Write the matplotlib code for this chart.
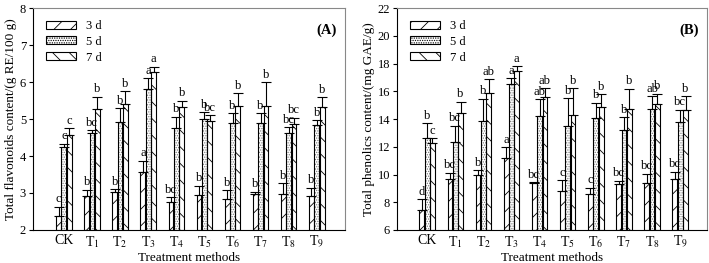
import matplotlib
matplotlib.use("Agg")
import matplotlib.pyplot as plt
import numpy as np
from matplotlib.patches import Patch

plt.rcParams['font.family'] = ['Liberation Serif', 'DejaVu Serif']
plt.rcParams['mathtext.fontset'] = 'stix'
plt.rcParams['hatch.linewidth'] = 0.6

categories = ['CK', 'T$_1$', 'T$_2$', 'T$_3$', 'T$_4$', 'T$_5$', 'T$_6$', 'T$_7$', 'T$_8$', 'T$_9$']
series = ['3 d', '5 d', '7 d']

# Panel A: total flavonoids (g RE/100 g)
flav_3d = [2.38, 2.92, 3.04, 3.56, 2.75, 2.95, 2.84, 2.97, 2.96, 2.93]
flav_5d = [4.25, 4.61, 4.93, 5.81, 4.75, 5.00, 4.88, 4.88, 4.61, 4.84]
flav_7d = [4.57, 5.26, 5.41, 6.26, 5.33, 4.95, 5.35, 5.35, 4.86, 5.33]
flav_3d_err = [0.25, 0.17, 0.06, 0.31, 0.13, 0.25, 0.24, 0.07, 0.30, 0.21]
flav_5d_err = [0.08, 0.09, 0.36, 0.29, 0.31, 0.19, 0.28, 0.28, 0.17, 0.13]
flav_7d_err = [0.18, 0.34, 0.35, 0.15, 0.16, 0.15, 0.34, 0.65, 0.18, 0.26]
flav_3d_let = ['c', 'b', 'b', 'a', 'bc', 'b', 'b', 'b', 'b', 'b']
flav_5d_let = ['c', 'bc', 'b', 'a', 'b', 'b', 'b', 'b', 'bc', 'b']
flav_7d_let = ['c', 'b', 'b', 'a', 'b', 'bc', 'b', 'b', 'bc', 'b']

# Panel B: total phenolics (mg GAE/g)
phen_3d = [7.43, 9.70, 9.95, 11.18, 9.40, 8.81, 8.57, 9.30, 9.37, 9.66]
phen_5d = [12.60, 12.36, 13.83, 16.54, 14.25, 13.47, 14.08, 13.23, 14.73, 13.81]
phen_7d = [12.24, 14.41, 15.86, 17.46, 15.57, 14.32, 14.90, 14.73, 15.09, 14.66]
phen_3d_err = [0.78, 0.42, 0.36, 0.77, 0.05, 0.78, 0.48, 0.24, 0.70, 0.55]
phen_5d_err = [1.12, 1.16, 1.63, 0.41, 1.16, 2.03, 1.09, 0.89, 0.91, 0.85]
phen_7d_err = [0.36, 0.85, 1.00, 0.34, 0.66, 1.91, 0.87, 1.45, 0.73, 0.98]
phen_3d_let = ['d', 'bc', 'b', 'a', 'bc', 'c', 'c', 'bc', 'bc', 'bc']
phen_5d_let = ['b', 'bc', 'b', 'a', 'ab', 'b', 'b', 'b', 'ab', 'bc']
phen_7d_let = ['c', 'b', 'ab', 'a', 'ab', 'b', 'b', 'b', 'b', 'b']

hatches = ['//', '.......', '\\\\']
hatch_colors = ['black', '#777777', 'black']

fig = plt.figure(figsize=(7.09, 2.63), dpi=100)
axA = fig.add_axes([0.0465, 0.1255, 0.440, 0.844])
axB = fig.add_axes([0.560, 0.1255, 0.437, 0.844])


def draw(ax, vals, errs, lets, ylim, yticks, ylabel, tag, xlim):
    x = np.arange(len(categories))
    width = 0.17
    offs = [-0.19, 0.0, 0.19]
    for i in range(3):
        xs = x + offs[i]
        ax.bar(xs, np.array(vals[i]) - ylim[0], width, bottom=ylim[0], color='white',
               edgecolor=hatch_colors[i], hatch=hatches[i], linewidth=0, zorder=2)
        ax.bar(xs, np.array(vals[i]) - ylim[0], width, bottom=ylim[0], fill=False,
               edgecolor='black', linewidth=0.8, zorder=3)
        ax.errorbar(xs, vals[i], yerr=[np.zeros(len(xs)), errs[i]], fmt='none',
                    ecolor='black', elinewidth=0.8, capsize=3.5, capthick=0.8, zorder=4)
        for xi, v, e, l in zip(xs, vals[i], errs[i], lets[i]):
            ax.annotate(l, (xi, v + e), xytext=(0, 1), textcoords='offset points',
                        ha='center', va='bottom', fontsize=9)
    ax.set_xlim(*xlim)
    ax.set_ylim(*ylim)
    ax.set_yticks(yticks)
    ax.set_xticks(x)
    ax.set_xticklabels(categories, fontsize=10)
    ax.tick_params(axis='x', length=0, pad=3)
    ax.tick_params(axis='y', length=3, width=0.8, labelsize=9, pad=2)
    ax.set_xlabel('Treatment methods', fontsize=9.5, labelpad=1)
    ax.set_ylabel(ylabel, fontsize=9.5, labelpad=2)
    for s in ax.spines.values():
        s.set_linewidth(0.8)
    ax.spines['right'].set_color('#888888')
    ax.spines['top'].set_color('#888888')
    ax.text(0.975, 0.93, tag, transform=ax.transAxes, ha='right', va='top',
            fontsize=10.5, fontweight='bold')
    handles = [Patch(facecolor='white', edgecolor='black', hatch=hatches[i], linewidth=0.8)
               for i in range(3)]
    ax.legend(handles, series, loc='upper left', frameon=False, fontsize=9,
              handlelength=2.4, handleheight=0.6, labelspacing=0.3,
              handletextpad=0.8, borderaxespad=0.3, bbox_to_anchor=(0.015, 0.985))


draw(axA, [flav_3d, flav_5d, flav_7d], [flav_3d_err, flav_5d_err, flav_7d_err],
     [flav_3d_let, flav_5d_let, flav_7d_let], (2, 8), [2, 3, 4, 5, 6, 7, 8],
     'Total flavonoids content/(g RE/100 g)', '(A)', (-1.1, 10.0))
draw(axB, [phen_3d, phen_5d, phen_7d], [phen_3d_err, phen_5d_err, phen_7d_err],
     [phen_3d_let, phen_5d_let, phen_7d_let], (6, 22), [6, 8, 10, 12, 14, 16, 18, 20, 22],
     'Total phenolics content/(mg GAE/g)', '(B)', (-1.07, 9.95))

fig.savefig('out.png', dpi=100)
